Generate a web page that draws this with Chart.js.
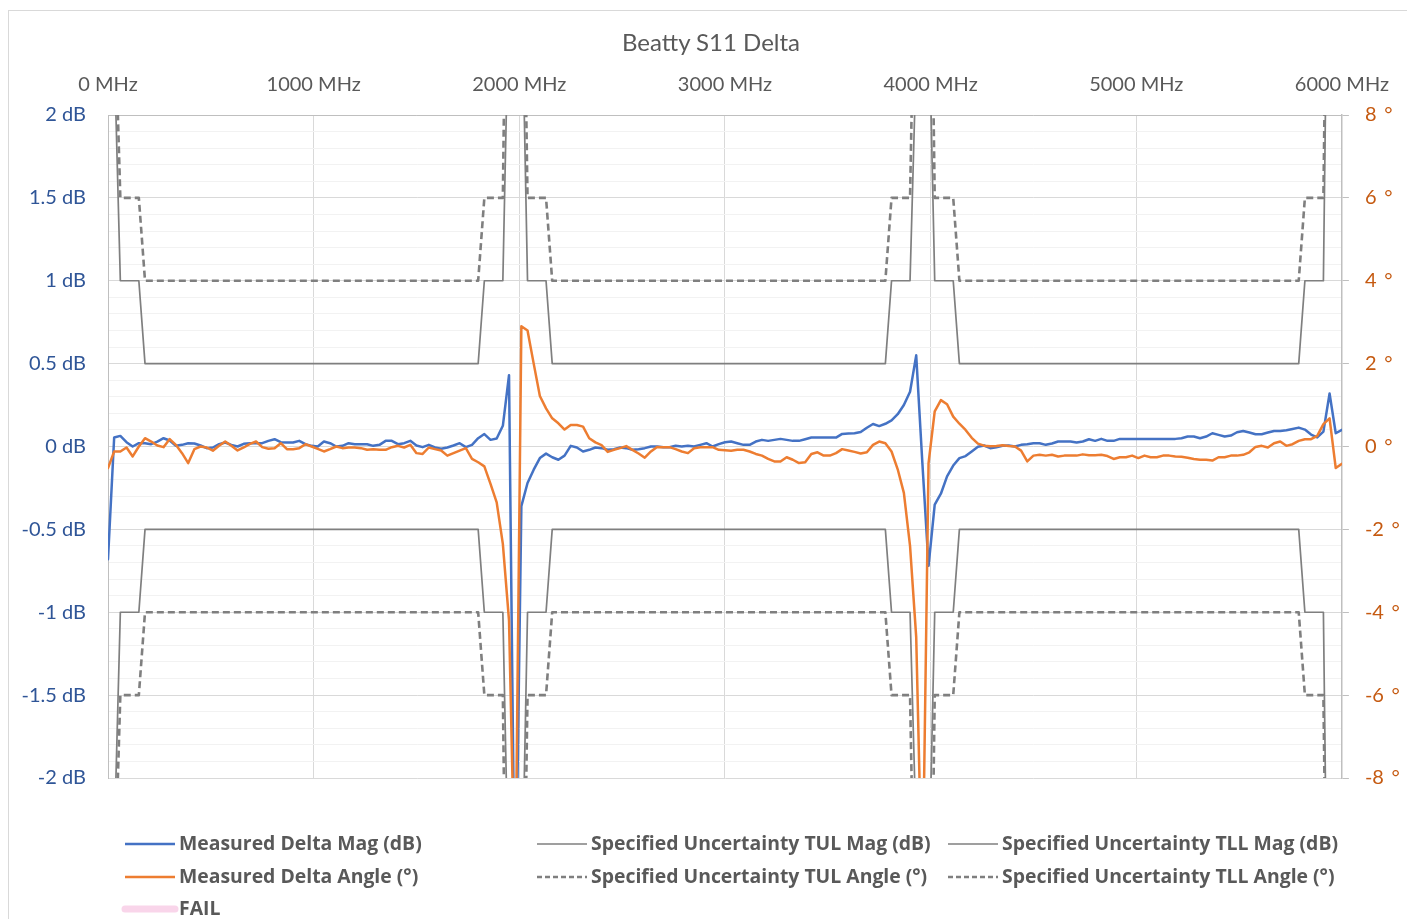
<!DOCTYPE html>
<html><head><meta charset="utf-8">
<script src="https://cdn.jsdelivr.net/npm/chart.js@4.4.1/dist/chart.umd.min.js"></script>
<style>
html,body{margin:0;padding:0;background:#fff;}
#wrap{position:relative;width:1407px;height:919px;overflow:hidden;font-family:Lato,'Open Sans',sans-serif;}
#frame{position:absolute;left:8px;top:10px;width:1420px;height:930px;border:1px solid #D9D9D9;box-sizing:border-box;}
#title{position:absolute;left:8px;width:1406px;top:27px;text-align:center;font-size:24px;color:#595959;line-height:30px;}
#c{position:absolute;left:0;top:0;}
.sw{position:absolute;}
.lt{position:absolute;font-family:'Open Sans',sans-serif;font-weight:700;font-size:19.4px;color:#595959;white-space:nowrap;line-height:22px;}
</style></head><body>
<div id="wrap">
<div id="frame"></div>
<canvas id="c" width="1407" height="919"></canvas>
<div id="title">Beatty S11 Delta</div>
<div id="legend"></div>
</div>
<script>
// ---- data ----
const freqMHz = [
0,30,60,90,120,150,180,210,240,270,
300,330,360,390,420,450,480,510,540,570,
600,630,660,690,720,750,780,810,840,870,
900,930,960,990,1020,1050,1080,1110,1140,1170,
1200,1230,1260,1290,1320,1350,1380,1410,1440,1470,
1500,1530,1560,1590,1620,1650,1680,1710,1740,1770,
1800,1830,1860,1890,1920,1950,1980,2010,2040,2070,
2100,2130,2160,2190,2220,2250,2280,2310,2340,2370,
2400,2430,2460,2490,2520,2550,2580,2610,2640,2670,
2700,2730,2760,2790,2820,2850,2880,2910,2940,2970,
3000,3030,3060,3090,3120,3150,3180,3210,3240,3270,
3300,3330,3360,3390,3420,3450,3480,3510,3540,3570,
3600,3630,3660,3690,3720,3750,3780,3810,3840,3870,
3900,3930,3960,3990,4020,4050,4080,4110,4140,4170,
4200,4230,4260,4290,4320,4350,4380,4410,4440,4470,
4500,4530,4560,4590,4620,4650,4680,4710,4740,4770,
4800,4830,4860,4890,4920,4950,4980,5010,5040,5070,
5100,5130,5160,5190,5220,5250,5280,5310,5340,5370,
5400,5430,5460,5490,5520,5550,5580,5610,5640,5670,
5700,5730,5760,5790,5820,5850,5880,5910,5940,5970,
6000];

const magDeltaDb = [
-0.68,0.054,0.064,0.026,0,0.02,0.02,0.014,0.03,0.05,
0.036,0.004,0.01,0.02,0.018,0.006,-0.01,-0.006,0.014,0.024,
0.01,0,0.016,0.02,0.02,0.02,0.034,0.044,0.026,0.024,
0.024,0.034,0.014,0.004,0,0.03,0.02,0,0.004,0.02,
0.014,0.014,0.014,0.004,0.01,0.034,0.034,0.014,0.02,0.034,
0.006,-0.004,0.01,-0.006,-0.014,-0.006,0.006,0.02,-0.004,0.01,
0.05,0.075,0.04,0.048,0.125,0.43,-3.0,-0.36,-0.22,-0.14,
-0.07,-0.043,-0.065,-0.08,-0.055,0.004,-0.006,-0.03,-0.02,-0.006,
-0.01,-0.02,-0.016,-0.006,-0.01,-0.02,-0.016,-0.01,0,0,
-0.004,-0.004,0.004,0,0.004,0,0.01,0.02,0,0.014,
0.026,0.03,0.02,0.01,0.01,0.03,0.04,0.034,0.04,0.046,
0.04,0.034,0.034,0.044,0.054,0.054,0.054,0.054,0.054,0.076,
0.078,0.08,0.087,0.113,0.136,0.123,0.137,0.158,0.195,0.25,
0.33,0.55,-0.1,-0.72,-0.35,-0.285,-0.18,-0.115,-0.07,-0.058,
-0.03,-0.002,0.006,-0.01,-0.004,0.004,0.006,0,0.01,0.014,
0.02,0.02,0.01,0.018,0.03,0.03,0.03,0.024,0.03,0.044,
0.034,0.046,0.034,0.034,0.046,0.046,0.046,0.046,0.046,0.046,
0.046,0.046,0.046,0.046,0.05,0.06,0.06,0.05,0.06,0.08,
0.07,0.06,0.066,0.086,0.094,0.084,0.074,0.074,0.084,0.094,
0.094,0.098,0.106,0.114,0.102,0.072,0.055,0.09,0.32,0.08,
0.1];

const angleDeltaDeg = [
-0.52,-0.12,-0.12,-0.024,-0.24,0,0.2,0.12,0.024,-0.016,
0.18,0.04,-0.16,-0.4,-0.064,0,-0.024,-0.1,0.016,0.12,
0.016,-0.096,-0.024,0.064,0.12,-0.016,-0.056,-0.04,0.08,-0.064,
-0.064,-0.04,0.056,0,-0.056,-0.12,-0.064,0,-0.04,-0.024,
-0.024,-0.04,-0.08,-0.064,-0.08,-0.08,-0.016,0.016,-0.024,0.04,
-0.16,-0.18,-0.024,-0.064,-0.096,-0.22,-0.16,-0.1,-0.04,-0.3,
-0.38,-0.48,-0.9,-1.35,-2.35,-4.2,-11,2.9,2.8,2.0,
1.22,0.92,0.68,0.56,0.41,0.52,0.52,0.48,0.2,0.1,
0.035,-0.13,-0.08,-0.04,0.01,-0.08,-0.17,-0.27,-0.12,-0.01,
-0.016,-0.016,-0.064,-0.12,-0.16,-0.04,-0.016,-0.016,-0.016,-0.08,
-0.09,-0.1,-0.08,-0.08,-0.12,-0.18,-0.22,-0.3,-0.36,-0.36,
-0.26,-0.32,-0.4,-0.38,-0.18,-0.14,-0.22,-0.22,-0.16,-0.064,
-0.096,-0.13,-0.17,-0.14,0.04,0.12,0.08,-0.12,-0.55,-1.12,
-2.4,-4.6,-11,-0.4,0.85,1.12,1.02,0.72,0.55,0.4,
0.21,0.07,0.02,0.005,0.01,0.03,0.01,0,-0.1,-0.36,
-0.22,-0.2,-0.22,-0.2,-0.24,-0.22,-0.22,-0.22,-0.19,-0.21,
-0.21,-0.2,-0.23,-0.3,-0.26,-0.26,-0.22,-0.28,-0.22,-0.26,
-0.26,-0.22,-0.22,-0.24,-0.25,-0.27,-0.3,-0.32,-0.32,-0.34,
-0.26,-0.26,-0.22,-0.22,-0.2,-0.14,-0.01,0.016,-0.024,0.08,
0.12,0.016,0.056,0.136,0.176,0.176,0.256,0.54,0.68,-0.52,
-0.42];

// limit breakpoints
const limitFreqMHz = [0,30,60,150,180,1800,1830,1920,1950,1980,2010,2040,2130,2160,3780,3810,3900,3930,3960,3990,4020,4110,4140,5790,5820,5910,5940,5970,6000];
const tulMagDb  = [3,2.4,1,1,0.5,0.5,1,1,2.8,4,2.9,1,1,0.5,0.5,1,1,2.35,4,2.7,1,1,0.5,0.5,1,1,4.1,5,5];
const tllMagDb  = [-3,-2.4,-1,-1,-0.5,-0.5,-1,-1,-2.8,-4,-2.9,-1,-1,-0.5,-0.5,-1,-1,-2.35,-4,-2.7,-1,-1,-0.5,-0.5,-1,-1,-4.1,-5,-5];
const tulAngDeg = [16,11,6,6,4,4,6,6,18,20,16,6,6,4,4,6,6,14,20,17,6,6,4,4,6,6,18,20,20];
const tllAngDeg = [-16,-11,-6,-6,-4,-4,-6,-6,-18,-20,-16,-6,-6,-4,-4,-6,-6,-14,-20,-17,-6,-6,-4,-4,-6,-6,-18,-20,-20];
const failValues = [];

const xTickStepMHz = 1000;
const magTickStep = 0.5, magMinorStep = 0.1;
const angTickStep = 2;

const seriesNames = [
 'Measured Delta Mag (dB)','Measured Delta Angle (°)','FAIL',
 'Specified Uncertainty TUL Mag (dB)','Specified Uncertainty TUL Angle (°)',
 'Specified Uncertainty TLL Mag (dB)','Specified Uncertainty TLL Angle (°)'];

// ---- chart ----
const pts = (xs, ys) => xs.map((x,i)=>({x:x,y:ys[i]}));
const isMajor = v => Math.abs(v/magTickStep - Math.round(v/magTickStep)) < 1e-6;
const GRAY = '#7F7F7F';
Chart.defaults.font.family = "Lato, 'Open Sans', sans-serif";

new Chart(document.getElementById('c'), {
  type: 'scatter',
  data: { datasets: [
    {label:seriesNames[1], data:pts(freqMHz, angleDeltaDeg), yAxisID:'y2', borderColor:'#ED7D31', borderWidth:2.5, order:0},
    {label:seriesNames[0], data:pts(freqMHz, magDeltaDb), yAxisID:'y', borderColor:'#4472C4', borderWidth:2.5, order:1},
    {label:seriesNames[2], data:failValues, yAxisID:'y', borderColor:'#F9D5EA', borderWidth:6, order:2},
    {label:seriesNames[3], data:pts(limitFreqMHz, tulMagDb), yAxisID:'y', borderColor:GRAY, borderWidth:1.7, order:3},
    {label:seriesNames[4], data:pts(limitFreqMHz, tulAngDeg), yAxisID:'y2', borderColor:GRAY, borderWidth:2.6, borderDash:[7,4], borderCapStyle:'butt', order:3},
    {label:seriesNames[5], data:pts(limitFreqMHz, tllMagDb), yAxisID:'y', borderColor:GRAY, borderWidth:1.7, order:3},
    {label:seriesNames[6], data:pts(limitFreqMHz, tllAngDeg), yAxisID:'y2', borderColor:GRAY, borderWidth:2.6, borderDash:[7,4], borderCapStyle:'butt', order:3}
  ]},
  options: {
    responsive:false, animation:false, devicePixelRatio:1,
    showLine:true,
    elements:{point:{radius:0, hoverRadius:0}, line:{tension:0, borderJoinStyle:'round', borderCapStyle:'round'}},
    layout:{padding:{top:70, bottom:141, left:0, right:0}},
    plugins:{legend:{display:false}, title:{display:false}, tooltip:{enabled:false}},
    scales:{
      x:{type:'linear', position:'top', min:0, max:6000,
         ticks:{stepSize:xTickStepMHz, autoSkip:false, maxRotation:0, color:'#595959', font:{size:20}, padding:18,
                callback:v=>v+' MHz'},
         grid:{color:'#D9D9D9', lineWidth:1, drawTicks:false},
         border:{display:true, color:'#BFBFBF', width:1},
         afterFit:s=>{s.height=45;}},
      y:{type:'linear', position:'left', min:-2, max:2,
         ticks:{stepSize:magMinorStep, autoSkip:false, color:'#2F5597', font:{size:20}, padding:22,
                callback:v=> isMajor(v) ? (Math.round(v*10)/10)+' dB' : ''},
         grid:{color:c=> isMajor(c.tick.value) ? '#D9D9D9' : '#F2F2F2', lineWidth:1, drawTicks:false},
         border:{display:true, color:'#BFBFBF', width:1},
         afterFit:s=>{s.width=108;}},
      y2:{type:'linear', position:'right', min:-8, max:8,
         ticks:{stepSize:angTickStep, autoSkip:false, color:'#C55A11', font:{size:20}, padding:16,
                callback:v=>v+'\u2009\u00a0°'},
         grid:{drawOnChartArea:false, color:'#BFBFBF', tickLength:7},
         border:{display:true, color:'#BFBFBF', width:1.5},
         afterFit:s=>{s.width=62;}}
    }
  }
});

// ---- HTML legend ----
const legendItems = [
  {name:seriesNames[0], col:0, row:0, color:'#4472C4', w:2.5, dash:null},
  {name:seriesNames[3], col:1, row:0, color:GRAY, w:1.7, dash:null},
  {name:seriesNames[5], col:2, row:0, color:GRAY, w:1.7, dash:null},
  {name:seriesNames[1], col:0, row:1, color:'#ED7D31', w:2.5, dash:null},
  {name:seriesNames[4], col:1, row:1, color:GRAY, w:2.5, dash:'5,3'},
  {name:seriesNames[6], col:2, row:1, color:GRAY, w:2.5, dash:'5,3'},
  {name:seriesNames[2], col:0, row:2, color:'#F9D5EA', w:7, dash:null, fail:true}
];
const colX = [125, 537, 948];
const rowY = [844, 877, 909];
const lg = document.getElementById('legend');
legendItems.forEach(it=>{
  const x0 = colX[it.col], y0 = rowY[it.row];
  const sx = it.fail ? x0-4 : x0, sw = it.fail ? 58 : 50;
  const svg = `<svg class="sw" style="left:${sx}px;top:${y0-6}px" width="${sw}" height="12"><line x1="${it.fail?4:0}" y1="6" x2="${it.fail?sw-4:sw}" y2="6" stroke="${it.color}" stroke-width="${it.w}" ${it.dash?`stroke-dasharray="${it.dash}"`:''} stroke-linecap="${it.fail?'round':'butt'}"/></svg>`;
  lg.insertAdjacentHTML('beforeend', svg + `<div class="lt" style="left:${x0+54}px;top:${y0-12}px">${it.name}</div>`);
});
</script>
</body></html>
